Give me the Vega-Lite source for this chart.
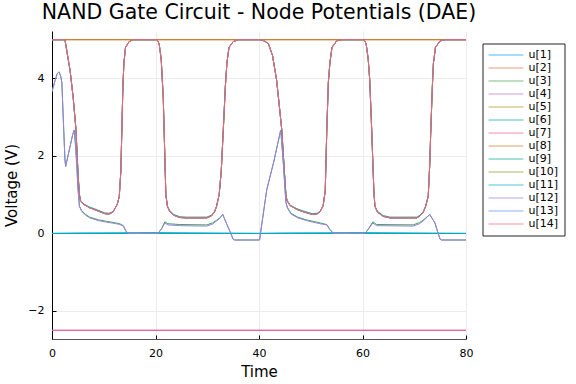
{
 "$schema": "https://vega.github.io/schema/vega-lite/v6.json",
 "width": 414, "height": 308,
 "autosize": {"type": "none"},
 "padding": {"left": 52, "top": 31, "right": 110, "bottom": 45},
 "background": "white",
 "title": {"text": "NAND Gate Circuit - Node Potentials (DAE)", "fontSize": 20.5, "font": "DejaVu Sans", "fontWeight": "normal", "color": "#000", "anchor": "middle", "frame": "group", "offset": 8},
 "data": {"values": [
  {"t":0,"u2":5,"u8":5,"u4":-2.5,"u7":-2.5},
  {"t":80,"u2":5,"u8":5,"u4":-2.5,"u7":-2.5},
  {"t":0,"u1":0,"u6":0,"u11":0},
  {"t":5,"u6":0.01},
  {"t":20,"u6":0.02},
  {"t":40,"u1":0,"u6":0,"u11":0},
  {"t":45,"u6":0.01},
  {"t":60,"u6":0.02},
  {"t":80,"u1":0,"u6":0,"u11":0},
  {"t":0,"u5":5,"u9":5,"u10":5,"u13":5,"u14":5},
  {"t":2.5,"u5":5,"u9":5,"u10":5,"u13":5,"u14":5},
  {"t":3.0,"u5":4.6,"u9":4.6,"u10":4.6,"u13":4.6,"u14":4.6},
  {"t":3.5,"u5":4.2,"u9":4.2,"u10":4.2,"u13":4.2,"u14":4.2},
  {"t":4.1,"u5":3.5,"u9":3.5,"u10":3.5,"u13":3.5,"u14":3.5},
  {"t":4.64,"u5":2.67,"u9":2.67,"u10":2.67,"u13":2.67,"u14":2.67},
  {"t":4.9,"u5":1.9,"u9":1.9,"u10":1.9,"u13":1.9,"u14":1.9},
  {"t":5.1,"u5":1.39,"u9":1.39,"u10":1.39,"u13":1.39,"u14":1.39},
  {"t":5.3,"u5":1.0,"u9":1.0,"u10":1.0,"u13":1.0,"u14":1.0},
  {"t":5.5,"u5":0.85,"u9":0.86,"u10":0.85,"u13":0.85,"u14":0.85},
  {"t":6.0,"u5":0.76,"u9":0.77,"u10":0.76,"u13":0.76,"u14":0.76},
  {"t":7.3,"u5":0.66,"u9":0.68,"u10":0.66,"u13":0.66,"u14":0.66},
  {"t":8.5,"u5":0.6,"u9":0.62,"u10":0.6,"u13":0.6,"u14":0.6},
  {"t":10.2,"u5":0.51,"u9":0.53,"u10":0.51,"u13":0.51,"u14":0.51},
  {"t":11.0,"u5":0.5,"u9":0.52,"u10":0.5,"u13":0.5,"u14":0.5},
  {"t":11.8,"u5":0.55,"u9":0.56,"u10":0.55,"u13":0.55,"u14":0.55},
  {"t":12.6,"u5":0.75,"u9":0.75,"u10":0.75,"u13":0.75,"u14":0.75},
  {"t":13.0,"u5":0.95,"u9":0.95,"u10":0.95,"u13":0.95,"u14":0.95},
  {"t":13.3,"u5":1.6,"u9":1.6,"u10":1.6,"u13":1.6,"u14":1.6},
  {"t":13.5,"u5":2.67,"u9":2.67,"u10":2.67,"u13":2.67,"u14":2.67},
  {"t":13.7,"u5":3.8,"u9":3.8,"u10":3.8,"u13":3.8,"u14":3.8},
  {"t":13.9,"u5":4.4,"u9":4.4,"u10":4.4,"u13":4.4,"u14":4.4},
  {"t":14.2,"u5":4.8,"u9":4.8,"u10":4.8,"u13":4.8,"u14":4.8},
  {"t":14.9,"u5":4.95,"u9":4.95,"u10":4.95,"u13":4.95,"u14":4.95},
  {"t":15.7,"u5":5,"u9":5,"u10":5,"u13":5,"u14":5},
  {"t":20.3,"u5":5,"u9":5,"u10":5,"u13":5,"u14":5},
  {"t":20.7,"u5":4.9,"u9":4.9,"u10":4.9,"u13":4.9,"u14":4.9},
  {"t":21.1,"u5":4.5,"u9":4.5,"u10":4.5,"u13":4.5,"u14":4.5},
  {"t":21.5,"u5":3.5,"u9":3.5,"u10":3.5,"u13":3.5,"u14":3.5},
  {"t":21.8,"u5":2.0,"u9":2.0,"u10":2.0,"u13":2.0,"u14":2.0},
  {"t":22.0,"u5":1.0,"u9":1.0,"u10":1.0,"u13":1.0,"u14":1.0},
  {"t":22.3,"u5":0.7,"u9":0.71,"u10":0.7,"u13":0.7,"u14":0.7},
  {"t":22.7,"u5":0.58,"u9":0.6,"u10":0.58,"u13":0.58,"u14":0.58},
  {"t":23.5,"u5":0.47,"u9":0.49,"u10":0.47,"u13":0.47,"u14":0.47},
  {"t":24.7,"u5":0.41,"u9":0.43,"u10":0.41,"u13":0.41,"u14":0.41},
  {"t":26,"u5":0.4,"u9":0.42,"u10":0.4,"u13":0.4,"u14":0.4},
  {"t":29.9,"u5":0.4,"u9":0.42,"u10":0.4,"u13":0.4,"u14":0.4},
  {"t":30.8,"u5":0.45,"u9":0.47,"u10":0.45,"u13":0.45,"u14":0.45},
  {"t":31.4,"u5":0.55,"u9":0.56,"u10":0.55,"u13":0.55,"u14":0.55},
  {"t":31.8,"u5":0.7,"u9":0.7,"u10":0.7,"u13":0.7,"u14":0.7},
  {"t":32.3,"u5":1.0,"u9":1.0,"u10":1.0,"u13":1.0,"u14":1.0},
  {"t":32.7,"u5":1.6,"u9":1.6,"u10":1.6,"u13":1.6,"u14":1.6},
  {"t":33.1,"u5":2.67,"u9":2.67,"u10":2.67,"u13":2.67,"u14":2.67},
  {"t":33.5,"u5":3.8,"u9":3.8,"u10":3.8,"u13":3.8,"u14":3.8},
  {"t":33.8,"u5":4.4,"u9":4.4,"u10":4.4,"u13":4.4,"u14":4.4},
  {"t":34.2,"u5":4.8,"u9":4.8,"u10":4.8,"u13":4.8,"u14":4.8},
  {"t":35.0,"u5":4.95,"u9":4.95,"u10":4.95,"u13":4.95,"u14":4.95},
  {"t":36,"u5":5,"u9":5,"u10":5,"u13":5,"u14":5},
  {"t":40.2,"u5":5,"u9":5,"u10":5,"u13":5,"u14":5},
  {"t":41.0,"u5":4.97,"u9":4.97,"u10":4.97,"u13":4.97,"u14":4.97},
  {"t":41.8,"u5":4.9,"u9":4.9,"u10":4.9,"u13":4.9,"u14":4.9},
  {"t":42.6,"u5":4.6,"u9":4.6,"u10":4.6,"u13":4.6,"u14":4.6},
  {"t":43.4,"u5":3.96,"u9":3.96,"u10":3.96,"u13":3.96,"u14":3.96},
  {"t":44.0,"u5":3.2,"u9":3.2,"u10":3.2,"u13":3.2,"u14":3.2},
  {"t":44.4,"u5":2.67,"u9":2.67,"u10":2.67,"u13":2.67,"u14":2.67},
  {"t":45.0,"u5":1.39,"u9":1.39,"u10":1.39,"u13":1.39,"u14":1.39},
  {"t":45.2,"u5":1.0,"u9":1.0,"u10":1.0,"u13":1.0,"u14":1.0},
  {"t":45.4,"u5":0.85,"u9":0.86,"u10":0.85,"u13":0.85,"u14":0.85},
  {"t":46.0,"u5":0.72,"u9":0.73,"u10":0.72,"u13":0.72,"u14":0.72},
  {"t":47.3,"u5":0.62,"u9":0.64,"u10":0.62,"u13":0.62,"u14":0.62},
  {"t":48.5,"u5":0.56,"u9":0.58,"u10":0.56,"u13":0.56,"u14":0.56},
  {"t":50.3,"u5":0.49,"u9":0.51,"u10":0.49,"u13":0.49,"u14":0.49},
  {"t":51.2,"u5":0.5,"u9":0.52,"u10":0.5,"u13":0.5,"u14":0.5},
  {"t":51.8,"u5":0.56,"u9":0.57,"u10":0.56,"u13":0.56,"u14":0.56},
  {"t":52.4,"u5":0.72,"u9":0.72,"u10":0.72,"u13":0.72,"u14":0.72},
  {"t":52.8,"u5":1.1,"u9":1.1,"u10":1.1,"u13":1.1,"u14":1.1},
  {"t":53.1,"u5":2.67,"u9":2.67,"u10":2.67,"u13":2.67,"u14":2.67},
  {"t":53.4,"u5":3.9,"u9":3.9,"u10":3.9,"u13":3.9,"u14":3.9},
  {"t":53.7,"u5":4.4,"u9":4.4,"u10":4.4,"u13":4.4,"u14":4.4},
  {"t":54.1,"u5":4.8,"u9":4.8,"u10":4.8,"u13":4.8,"u14":4.8},
  {"t":55.0,"u5":4.97,"u9":4.97,"u10":4.97,"u13":4.97,"u14":4.97},
  {"t":56,"u5":5,"u9":5,"u10":5,"u13":5,"u14":5},
  {"t":60.3,"u5":5,"u9":5,"u10":5,"u13":5,"u14":5},
  {"t":60.7,"u5":4.9,"u9":4.9,"u10":4.9,"u13":4.9,"u14":4.9},
  {"t":61.1,"u5":4.5,"u9":4.5,"u10":4.5,"u13":4.5,"u14":4.5},
  {"t":61.4,"u5":3.96,"u9":3.96,"u10":3.96,"u13":3.96,"u14":3.96},
  {"t":61.8,"u5":2.6,"u9":2.6,"u10":2.6,"u13":2.6,"u14":2.6},
  {"t":62.0,"u5":1.82,"u9":1.82,"u10":1.82,"u13":1.82,"u14":1.82},
  {"t":62.2,"u5":1.1,"u9":1.1,"u10":1.1,"u13":1.1,"u14":1.1},
  {"t":62.4,"u5":0.7,"u9":0.71,"u10":0.7,"u13":0.7,"u14":0.7},
  {"t":62.9,"u5":0.55,"u9":0.57,"u10":0.55,"u13":0.55,"u14":0.55},
  {"t":64.0,"u5":0.44,"u9":0.46,"u10":0.44,"u13":0.44,"u14":0.44},
  {"t":65.3,"u5":0.4,"u9":0.42,"u10":0.4,"u13":0.4,"u14":0.4},
  {"t":70.5,"u5":0.4,"u9":0.42,"u10":0.4,"u13":0.4,"u14":0.4},
  {"t":71.1,"u5":0.45,"u9":0.47,"u10":0.45,"u13":0.45,"u14":0.45},
  {"t":71.7,"u5":0.53,"u9":0.55,"u10":0.53,"u13":0.53,"u14":0.53},
  {"t":72.2,"u5":0.7,"u9":0.7,"u10":0.7,"u13":0.7,"u14":0.7},
  {"t":72.7,"u5":0.96,"u9":0.96,"u10":0.96,"u13":0.96,"u14":0.96},
  {"t":73.0,"u5":1.8,"u9":1.8,"u10":1.8,"u13":1.8,"u14":1.8},
  {"t":73.2,"u5":2.67,"u9":2.67,"u10":2.67,"u13":2.67,"u14":2.67},
  {"t":73.5,"u5":3.8,"u9":3.8,"u10":3.8,"u13":3.8,"u14":3.8},
  {"t":73.7,"u5":4.39,"u9":4.39,"u10":4.39,"u13":4.39,"u14":4.39},
  {"t":74.1,"u5":4.8,"u9":4.8,"u10":4.8,"u13":4.8,"u14":4.8},
  {"t":75.0,"u5":4.97,"u9":4.97,"u10":4.97,"u13":4.97,"u14":4.97},
  {"t":76,"u5":5,"u9":5,"u10":5,"u13":5,"u14":5},
  {"t":80,"u5":5,"u9":5,"u10":5,"u13":5,"u14":5},
  {"t":0,"u3":3.66,"u12":3.66},
  {"t":0.6,"u3":3.95,"u12":3.95},
  {"t":1.0,"u3":4.12,"u12":4.12},
  {"t":1.36,"u3":4.17,"u12":4.17},
  {"t":1.7,"u3":4.05,"u12":4.05},
  {"t":1.9,"u3":3.9,"u12":3.9},
  {"t":2.2,"u3":2.9,"u12":2.9},
  {"t":2.5,"u3":1.9,"u12":1.9},
  {"t":2.64,"u3":1.73,"u12":1.73},
  {"t":3.0,"u3":1.95,"u12":1.95},
  {"t":3.5,"u3":2.25,"u12":2.25},
  {"t":4.0,"u3":2.55,"u12":2.55},
  {"t":4.3,"u3":2.67,"u12":2.67},
  {"t":4.5,"u3":2.35,"u12":2.35},
  {"t":4.77,"u3":1.82,"u12":1.82},
  {"t":5.0,"u3":1.2,"u12":1.2},
  {"t":5.3,"u3":0.7,"u12":0.7},
  {"t":5.73,"u3":0.59,"u12":0.57},
  {"t":6.5,"u3":0.49,"u12":0.47},
  {"t":7.3,"u3":0.42,"u12":0.4},
  {"t":9.0,"u3":0.35,"u12":0.33},
  {"t":10.6,"u3":0.31,"u12":0.29},
  {"t":12.0,"u3":0.28,"u12":0.26},
  {"t":13.1,"u3":0.25,"u12":0.23},
  {"t":13.8,"u3":0.2,"u12":0.19},
  {"t":14.2,"u3":0.08,"u12":0.08},
  {"t":14.6,"u3":0,"u12":0},
  {"t":20.5,"u3":0,"u12":0},
  {"t":21.2,"u3":0.13,"u12":0.12},
  {"t":21.8,"u3":0.3,"u12":0.27},
  {"t":22.4,"u3":0.25,"u12":0.22},
  {"t":24.7,"u3":0.23,"u12":0.2},
  {"t":29.9,"u3":0.22,"u12":0.19},
  {"t":31.0,"u3":0.27,"u12":0.24},
  {"t":31.8,"u3":0.34,"u12":0.32},
  {"t":32.5,"u3":0.41,"u12":0.4},
  {"t":33.0,"u3":0.49,"u12":0.49},
  {"t":33.8,"u3":0.23,"u12":0.23},
  {"t":34.4,"u3":0.05,"u12":0.05},
  {"t":35.0,"u3":-0.15,"u12":-0.15},
  {"t":35.3,"u3":-0.17,"u12":-0.17},
  {"t":40.1,"u3":-0.17,"u12":-0.17},
  {"t":41.5,"u3":1.13,"u12":1.13},
  {"t":42.8,"u3":1.82,"u12":1.82},
  {"t":44.2,"u3":2.67,"u12":2.67},
  {"t":44.7,"u3":1.82,"u12":1.82},
  {"t":45.2,"u3":0.8,"u12":0.8},
  {"t":45.5,"u3":0.67,"u12":0.65},
  {"t":46.2,"u3":0.52,"u12":0.5},
  {"t":47.5,"u3":0.42,"u12":0.4},
  {"t":49.2,"u3":0.35,"u12":0.33},
  {"t":51.8,"u3":0.27,"u12":0.25},
  {"t":53.1,"u3":0.23,"u12":0.22},
  {"t":53.7,"u3":0.1,"u12":0.1},
  {"t":54.4,"u3":0,"u12":0},
  {"t":60.5,"u3":0,"u12":0},
  {"t":61.2,"u3":0.13,"u12":0.12},
  {"t":62.0,"u3":0.3,"u12":0.27},
  {"t":62.7,"u3":0.23,"u12":0.2},
  {"t":69.8,"u3":0.22,"u12":0.19},
  {"t":71.0,"u3":0.28,"u12":0.25},
  {"t":71.7,"u3":0.34,"u12":0.32},
  {"t":72.5,"u3":0.43,"u12":0.42},
  {"t":73.0,"u3":0.49,"u12":0.49},
  {"t":74.0,"u3":0.27,"u12":0.27},
  {"t":74.5,"u3":0.05,"u12":0.05},
  {"t":75.0,"u3":-0.15,"u12":-0.15},
  {"t":75.3,"u3":-0.17,"u12":-0.17},
  {"t":80,"u3":-0.17,"u12":-0.17}
 ]},
 "transform": [
  {"fold": ["u1","u2","u3","u4","u5","u6","u7","u8","u9","u10","u11","u12","u13","u14"], "as": ["series","v"]},
  {"filter": "isValid(datum.v)"}
 ],
 "mark": {"type": "line", "strokeWidth": 1, "clip": true},
 "encoding": {
  "x": {"field": "t", "type": "quantitative",
        "scale": {"domain": [0, 80], "nice": false, "zero": false},
        "axis": {"title": "Time", "values": [0, 20, 40, 60, 80], "labelPadding": 12, "titlePadding": 6, "labelFlush": false, "domainColor": "#555"}},
  "y": {"field": "v", "type": "quantitative",
        "scale": {"domain": [-2.725, 5.225], "nice": false, "zero": false},
        "axis": {"title": "Voltage (V)", "values": [-2, 0, 2, 4], "labelPadding": 12, "titlePadding": 8, "labelFlush": false, "labelExpr": "replace(datum.label, '-', '−')"}},
  "color": {"field": "series", "type": "nominal",
        "scale": {"domain": ["u1","u2","u3","u4","u5","u6","u7","u8","u9","u10","u11","u12","u13","u14"],
                  "range": ["#009AFA","#E36F47","#3EA44E","#C371D2","#AC8E18","#00AAAE","#ED5E93","#C68225","#00A98D","#8E971D","#00A9CD","#9B7FE9","#618DF6","#F5616F"]},
        "legend": {"title": null, "orient": "none", "legendX": 430.5, "legendY": 12.5,
                   "symbolType": "M-3.5,0H3.5", "symbolSize": 100, "symbolStrokeWidth": 1,
                   "symbolOffset": 12, "labelOffset": 17,
                   "labelFont": "DejaVu Sans", "labelFontSize": 11, "labelColor": "#000",
                   "strokeColor": "#222", "fillColor": "white", "padding": 6, "rowPadding": 1,
                   "labelExpr": "'u[' + substring(datum.label, 1) + ']'",
                   "encode": {"symbols": {"update": {"stroke": {"scale": "color", "field": "value"}, "strokeOpacity": {"value": 0.7}}}}}}
 },
 "config": {
  "view": {"stroke": null},
  "axis": {"domainColor": "#000", "domainWidth": 1, "tickColor": "#000", "tickSize": -4, "tickWidth": 1,
           "labelFont": "DejaVu Sans", "labelFontSize": 11, "labelColor": "#000",
           "titleFont": "DejaVu Sans", "titleFontSize": 15, "titleFontWeight": "normal", "titleColor": "#000",
           "gridColor": "#ececec", "gridWidth": 1}
 }
}
